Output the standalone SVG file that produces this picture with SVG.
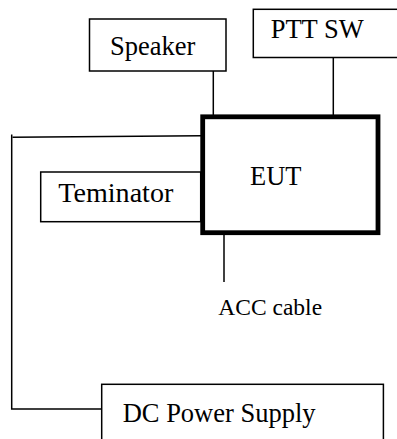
<svg xmlns="http://www.w3.org/2000/svg" width="397" height="439" viewBox="0 0 397 439">
<style>
.box{fill:#fff;stroke:#000;stroke-width:1.5}
.eut{fill:#fff;stroke:#000;stroke-width:4.8}
.ln{fill:none;stroke:#000;stroke-width:1.5}
text{font-family:"Liberation Serif","Times New Roman",serif;fill:#000}
.t{font-size:26.5px}
.s{font-size:23.5px}
</style>
<rect width="397" height="439" fill="#fff"/>
<g id="connectors">
<line class="ln" x1="213.3" y1="71" x2="213.3" y2="117"/>
<line class="ln" x1="333.3" y1="57.5" x2="333.3" y2="117"/>
<polyline class="ln" points="201,135.7 12.5,137.3"/>
<polyline class="ln" points="11.7,134.5 11.7,409 101.7,409"/>
<line class="ln" x1="224" y1="235" x2="224" y2="282"/>
</g>
<g id="speaker">
<rect class="box" x="89.5" y="19" width="136.5" height="52"/>
<text class="t" x="110" y="55">Speaker</text>
</g>
<g id="ptt">
<rect class="box" x="253.3" y="9.3" width="160" height="48.2"/>
<text class="t" x="270.7" y="38.3">PTT SW</text>
</g>
<g id="terminator">
<rect class="box" x="40.7" y="172" width="160" height="49.7"/>
<text class="t" x="58.3" y="201.7" textLength="115" lengthAdjust="spacingAndGlyphs">Teminator</text>
</g>
<g id="eut">
<rect class="eut" x="202.7" y="116.8" width="175.3" height="115.9"/>
<text class="t" x="250" y="185">EUT</text>
</g>
<g id="acc">
<text class="s" x="218.3" y="315">ACC cable</text>
</g>
<g id="dc">
<rect class="box" x="101.7" y="384.3" width="281.7" height="70"/>
<text class="t" x="122.7" y="421.7">DC Power Supply</text>
</g>
</svg>
